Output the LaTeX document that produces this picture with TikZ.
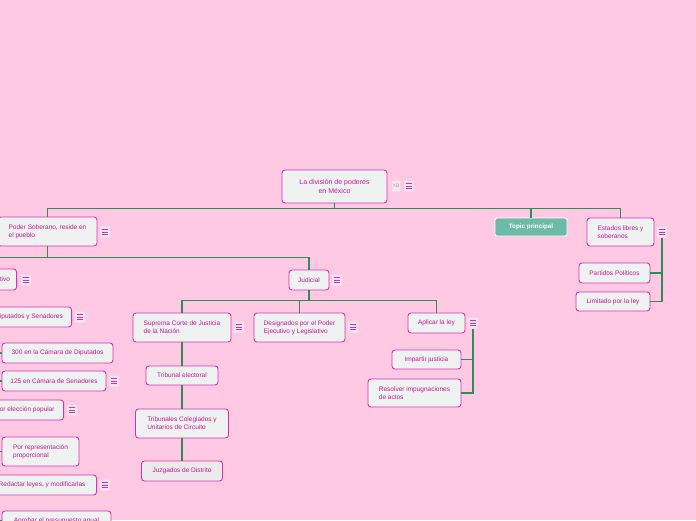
\documentclass[tikz,border=0pt]{standalone}
\usepackage{fontspec}
\setmainfont{Liberation Sans}
\definecolor{bg}{HTML}{FFC9E4}
\definecolor{nodefill}{HTML}{EEF2F0}
\definecolor{nodeborder}{HTML}{DD2FB5}
\definecolor{nodetext}{HTML}{C8189A}
\definecolor{edgegreen}{HTML}{2F8B58}
\definecolor{menufill}{HTML}{F7E4EF}
\definecolor{topicfill}{HTML}{6DBBA6}
\newcommand{\fs}{\fontsize{6.5}{8}\selectfont}
\tikzset{
  box/.style={draw=nodeborder, fill=nodefill, rounded corners=3pt, line width=0.9pt,
    text=nodetext, font=\fs, inner xsep=5pt, inner ysep=3pt, minimum height=20pt, align=left},
  edge/.style={draw=edgegreen, line width=1.3pt},
  menu/.style={fill=menufill, rounded corners=1pt, minimum width=10pt, minimum height=11pt, inner sep=0pt,
    path picture={
      \foreach \d in {-2.6,0,2.6}{
        \draw[nodeborder, line width=0.7pt]
          ([xshift=-2.8pt,yshift=\d pt]path picture bounding box.center) --
          ([xshift=2.8pt,yshift=\d pt]path picture bounding box.center);}
    }},
}
\begin{document}
\begin{tikzpicture}[x=1pt,y=-1pt]
\path[use as bounding box, fill=bg] (0,0) rectangle (696,520);
\clip (0,0) rectangle (696,520);

% ---- connectors ----
\coordinate (legv) at (-40,290);
\coordinate (dipv) at (-4,327);
\coordinate (elecv) at (-4,420);
\coordinate (redv) at (-4,495);

% ---- nodes ----
\node[box, font=\fontsize{7}{8.6}\selectfont, align=center, minimum width=105pt, minimum height=33pt] (root) at (334.5,186.5) {La división de poderes\\en México};
\node[fill=menufill, rounded corners=1pt, text=gray!70, font=\fontsize{5}{6}\selectfont, inner sep=1pt, minimum height=11pt] (xb) at (396,186) {XB};
\node[menu] (rootmenu) at (409,186) {};

\node[box, minimum width=99pt, minimum height=29pt] (poder) at (47.5,231.5) {Poder Soberano, reside en\\el pueblo};
\node[menu] (podermenu) at (105,232) {};

\node[draw=white, fill=topicfill, rounded corners=2pt, line width=0.8pt, text=white, font=\bfseries\fontsize{6.3}{7}\selectfont, minimum width=72pt, minimum height=18pt] (topic) at (531,227) {Topic principal};

\node[box, minimum width=67pt, minimum height=28pt] (estados) at (620.5,232) {Estados libres y\\soberanos};
\node[menu] (estmenu) at (662,232) {};
\node[box, minimum width=71pt] (partidos) at (614.5,273) {Partidos Políticos};
\node[box, minimum width=74pt, minimum height=19pt] (limitado) at (613,301.5) {Limitado por la ley};

% Legislativo branch (partly off the left edge)
\node[box, anchor=east, minimum width=44pt, minimum height=21pt] (legis) at (17,279.5) {Legislativo};
\node[menu] (legmenu) at (26,280) {};
\node[box, anchor=east, minimum width=85pt] (diput) at (72,317) {Diputados y Senadores};
\node[menu] (dipmenu) at (80,317) {};
\node[box, minimum width=111pt] (c300) at (57.5,353) {300 en la Cámara de Diputados};
\node[box, minimum width=104pt] (c125) at (54,381) {125 en Cámara de Senadores};
\node[menu] (c125menu) at (114,381) {};
\node[box, anchor=east, minimum width=77pt] (elec) at (64,410) {Por elección popular};
\node[menu] (elecmenu) at (72,410) {};
\node[box, minimum width=77pt, minimum height=29pt] (porrep) at (40.5,451.5) {Por representación\\proporcional};
\node[box, anchor=east, minimum width=109pt] (redact) at (97,485) {Redactar leyes, y modificarlas};
\node[menu] (redmenu) at (105,485) {};
\node[box, minimum width=109pt] (aprobar) at (56.5,521) {Aprobar el presupuesto anual};

% Judicial branch
\node[box, minimum width=40pt] (judicial) at (309,280) {Judicial};
\node[menu] (judmenu) at (337,280) {};
\node[box, minimum width=98pt, minimum height=29pt] (suprema) at (182,327.5) {Suprema Corte de Justicia\\de la Nación};
\node[menu] (supmenu) at (239,327) {};
\node[box, minimum width=91pt, minimum height=29pt] (designados) at (299.5,327.5) {Designados por el Poder\\Ejecutivo y Legislativo};
\node[menu] (desmenu) at (353,327) {};
\node[box, minimum width=57pt] (aplicar) at (436.5,323) {Aplicar la ley};
\node[menu] (aplmenu) at (473,323) {};
\node[box, minimum width=72pt, minimum height=19pt] (tribelec) at (182,375.5) {Tribunal electoral};
\node[box, minimum width=93pt, minimum height=29pt] (tribcol) at (182,423.5) {Tribunales Colegiados y\\Unitarios de Circuito};
\node[box, fill=black!8, minimum width=81pt] (juzg) at (182,471) {Juzgados de Distrito};
\node[box, minimum width=69pt, minimum height=19pt] (impartir) at (426.5,359.5) {Impartir justicia};
\node[box, minimum width=93pt, minimum height=28pt] (resolver) at (414.5,393) {Resolver impugnaciones\\de actos};

% ---- connectors ----
\draw[edge] (root.south) -- ++(0,5) -| (poder.north);
\draw[edge] (root.south) -- ++(0,5) -| (topic.north);
\draw[edge] (root.south) -- ++(0,5) -| (estados.north);

\draw[edge] (poder.south) -- ++(0,11) -| (legis.north);
\draw[edge] (poder.south) -- ++(0,11) -| (judicial.north);

\draw[edge] (estmenu.south) |- (partidos.east);
\draw[edge] (estmenu.south) |- (limitado.east);

\draw[edge] (legv) |- (diput.west);
\draw[edge] (legv) |- (elec.west);
\draw[edge] (legv) |- (redact.west);
\draw[edge] (dipv) |- (c300.west);
\draw[edge] (dipv) |- (c125.west);
\draw[edge] (elecv) |- (porrep.west);
\draw[edge] (redv) |- (aprobar.west);

\draw[edge] (judicial.south) -- ++(0,10) -| (suprema.north);
\draw[edge] (judicial.south) -- ++(0,10) -| (designados.north);
\draw[edge] (judicial.south) -- ++(0,10) -| (aplicar.north);

\draw[edge] (suprema.south) -- (tribelec.north);
\draw[edge] (tribelec.south) -- (tribcol.north);
\draw[edge] (tribcol.south) -- (juzg.north);

\draw[edge] (aplmenu.south) |- (impartir.east);
\draw[edge] (aplmenu.south) |- (resolver.east);
\end{tikzpicture}
\end{document}
